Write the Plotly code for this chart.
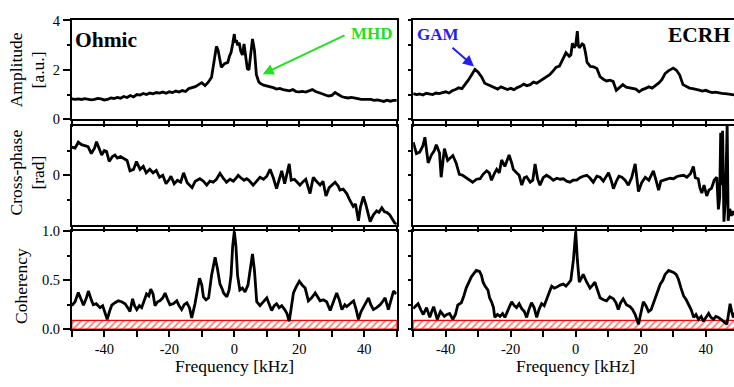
import plotly.graph_objects as go
from plotly.subplots import make_subplots

# ---------------- data ----------------
amp_ohm_f = [-50,-49,-48,-47,-46,-45,-44,-43,-42,-41,-40,-39,-38,-37,-36,-35,-34,-33,-32,-31,-30,-29,-28,-27,-26,-25,-24,-23,-22,-21,-20,-19,-18,-17,-16,-15,-14,-13,-12,-11,-10,-9,-8,-7,-6,-5.5,-5,-4.5,-4,-3,-2,-1.5,-1,-0.5,0,0.3,0.7,1,1.5,2,2.5,3,3.5,4,4.5,5,5.6,6.2,6.8,7.5,8,9,10,11,12,13,14,15,16,17,18,19,20,21,22,23,24,25,26,27,28,29,30,31,32,33,34,35,36,37,38,39,40,41,42,43,44,45,46,47,48,49,50]
amp_ohm = [0.82,0.80,0.82,0.80,0.83,0.81,0.78,0.80,0.84,0.82,0.78,0.80,0.86,0.84,0.88,0.85,0.92,0.88,0.96,0.90,1.00,0.98,1.04,1.00,1.06,1.03,1.08,1.06,1.10,1.05,1.11,1.08,1.14,1.10,1.16,1.12,1.24,1.28,1.32,1.40,1.48,1.36,1.50,1.70,2.50,2.95,2.80,2.35,2.10,2.25,2.30,2.55,2.70,3.05,3.45,3.10,3.20,3.00,3.10,2.75,2.60,3.05,2.60,2.05,2.00,2.60,3.25,2.80,1.80,1.52,1.45,1.38,1.35,1.32,1.28,1.22,1.25,1.20,1.18,1.15,1.20,1.12,1.11,1.13,1.10,1.16,1.20,1.12,1.06,1.03,0.98,0.94,0.96,1.08,1.00,0.92,0.88,0.86,0.88,0.84,0.83,0.80,0.80,0.78,0.80,0.76,0.78,0.75,0.72,0.77,0.73,0.76,0.76]

amp_ecrh_f = [-50,-49,-48,-47,-46,-45,-44,-43,-42,-41,-40,-39,-38,-37,-36,-35,-34,-33,-32,-31,-30,-29,-28,-27,-26,-25,-24,-23,-22,-21,-20,-19,-18,-17,-16,-15,-14,-13,-12,-11,-10,-9,-8,-7,-6,-5,-4,-3,-2,-1.5,-1,-0.5,0,0.5,0.8,1.1,2,2.5,3,3.5,4.5,5.5,6.5,7.5,8.5,9.5,10.5,11.5,12.5,13.5,14.5,15.5,16.5,17.5,18.5,19.5,20.5,21.5,22.5,23.5,24.5,25.5,26.5,27.5,28.5,29.5,30,31,32,33,34,35,36,37,38,39,40,41,42,43,44,45,46,47,48,48.5,49,50]
amp_ecrh = [1.04,1.00,1.02,0.98,1.05,1.02,1.00,1.06,1.04,1.08,1.11,1.06,1.15,1.20,1.27,1.24,1.40,1.59,1.80,2.02,1.90,1.72,1.46,1.40,1.32,1.27,1.22,1.31,1.24,1.20,1.25,1.20,1.28,1.33,1.42,1.36,1.40,1.50,1.46,1.55,1.62,1.72,1.80,1.95,2.11,2.15,2.40,2.69,2.55,2.60,3.08,2.90,3.00,3.57,3.00,2.89,3.05,3.00,2.70,2.30,2.14,2.12,2.05,1.72,1.62,1.55,1.58,1.53,1.17,1.30,1.40,1.30,1.28,1.24,1.22,1.11,1.20,1.25,1.31,1.26,1.36,1.46,1.60,1.85,1.96,2.02,2.07,1.98,1.79,1.40,1.32,1.26,1.24,1.22,1.18,1.14,1.17,1.12,1.08,1.10,1.06,1.05,1.04,1.02,1.00,0.98,0.98,0.96]

ph_ohm_f = [-50,-49,-48,-47,-46,-45,-44,-43,-42.4,-41.5,-40.8,-40,-39.3,-38.5,-37.5,-36.7,-36,-35,-34.2,-33,-32.1,-31,-30.1,-29.5,-29,-28,-27.1,-26,-25,-24,-23,-22,-21,-20,-19.5,-18.5,-17.5,-16.5,-15.6,-14.5,-13,-12,-10.6,-9.5,-8.5,-7.5,-6.5,-5.5,-4.4,-3.5,-2.4,-1.3,-0.3,0.5,1.2,2,3,3.8,4.5,5.8,7,7.9,9,10,11,12,13,14,14.6,15.5,16.9,17.5,18.5,19.5,20.2,21,22,23.3,24.3,25,26.4,27.3,28.2,29.2,30,31,32,32.5,33.5,34.6,35.5,36.6,37.3,38.2,38.8,39.7,40.5,41.3,41.8,42.8,43.8,44.5,45.4,46.2,46.9,47.8,48.6,49.4,50]
ph_ohm = [0.57,0.55,0.67,0.62,0.60,0.58,0.44,0.55,0.68,0.52,0.41,0.50,0.48,0.28,0.38,0.41,0.35,0.38,0.35,0.30,0.09,0.12,0.28,0.20,0.12,0.18,0.05,0.12,0.05,0.10,-0.04,0.00,-0.17,-0.08,-0.02,-0.17,-0.10,-0.14,0.05,-0.15,-0.25,-0.12,-0.07,-0.12,-0.20,-0.12,-0.14,-0.08,0.04,-0.05,-0.14,-0.08,-0.12,-0.06,0.00,-0.05,-0.10,-0.07,-0.10,-0.20,-0.12,-0.04,-0.08,-0.02,0.12,-0.05,-0.27,-0.05,0.09,-0.17,0.23,-0.10,-0.08,-0.15,-0.20,-0.14,-0.08,-0.37,-0.04,-0.10,-0.20,-0.12,-0.42,-0.25,-0.20,-0.14,-0.22,-0.30,-0.28,-0.37,-0.50,-0.63,-0.58,-0.92,-0.65,-0.43,-0.60,-0.85,-0.94,-0.80,-0.72,-0.75,-0.66,-0.74,-0.75,-0.80,-0.90,-0.97,-0.99]

ph_ecrh_f = [-50,-49.5,-49,-48,-47,-46.4,-45.4,-44.4,-43.5,-42.9,-41.9,-41.4,-40.4,-39.4,-38.5,-37.8,-36.8,-35.8,-34.8,-33.8,-32.5,-31.7,-30.5,-29.4,-28.5,-27.4,-26.6,-25.9,-25,-24.3,-23.5,-22.8,-21.8,-20.5,-19.7,-19.2,-18.2,-17.4,-16.6,-15.8,-15.1,-14,-13.2,-12.5,-11.7,-11,-10,-9,-8,-6.9,-5.8,-4.8,-3.8,-2.8,-1.8,-0.8,0.3,1.3,2.3,3.4,4.3,5.4,6.5,7.5,8.5,9.3,10.1,10.9,11.6,12.5,13.3,14.2,15.2,16.2,17.2,18.3,19.3,20.3,21.4,22.5,23.9,24.7,25.5,26.2,27,28,29,30.1,31,32,33.2,34.2,35.3,36.2,36.8,37.7,38.2,38.8,39.5,40.3,41,41.8,42.6,43.4,43.9,44.3,44.6,44.9,45.2,45.6,46.1,46.6,46.9,47.4,47.9,48.4,49,50]
ph_ecrh = [0.67,0.55,0.44,0.47,0.60,0.77,0.25,0.41,0.50,0.62,0.45,-0.04,0.54,0.30,0.35,0.40,0.25,0.02,0.00,-0.04,-0.10,-0.14,-0.08,-0.07,0.02,0.09,0.05,-0.10,0.04,0.12,0.05,0.31,0.18,0.41,0.25,0.12,0.05,0.00,-0.20,-0.05,-0.03,-0.14,-0.10,0.23,-0.08,-0.20,-0.05,0.00,-0.04,-0.10,-0.06,-0.08,-0.07,-0.12,-0.14,-0.10,-0.10,-0.05,-0.02,0.00,-0.05,-0.14,-0.02,-0.04,-0.12,-0.03,0.05,-0.10,-0.27,-0.12,-0.02,-0.04,-0.10,-0.20,-0.05,0.23,-0.33,-0.15,-0.04,-0.10,0.09,-0.10,-0.30,-0.12,-0.10,-0.08,-0.06,-0.07,-0.03,-0.01,0.00,-0.04,0.03,0.18,-0.05,-0.07,-0.25,-0.36,-0.20,-0.42,-0.30,-0.26,-0.10,-0.04,-0.69,-0.45,0.86,-0.20,0.90,-0.94,-0.46,1.05,-0.92,-0.68,-0.82,-0.73,-0.80,-0.78]

coh_ohm_f = [-50,-49,-48,-47,-46.4,-45.5,-44.9,-44,-43.4,-42.5,-41.3,-40.5,-39.8,-39.1,-38.4,-37.7,-36.7,-35.7,-34.7,-33.6,-32.8,-32.1,-31.3,-30.7,-30,-29.2,-28.5,-27.7,-27,-26.3,-25.7,-25,-24.4,-23.6,-22.9,-22,-21.3,-20.5,-19.8,-18.8,-17.7,-17,-16.2,-15.4,-14.6,-13.8,-13.1,-12.1,-11.4,-10.7,-10,-9.5,-8.7,-7.9,-7,-6.3,-5.9,-5.2,-4.4,-3.6,-3.3,-2.3,-1.6,-1,-0.5,0,0.5,1,1.7,2.5,3.3,4.2,5,5.6,6.2,6.9,7.9,8.8,10,10.8,11.5,12.3,13,13.8,14.6,15.5,16.2,16.9,17.5,18.2,19,20,20.9,21.8,22.8,23.8,24.9,25.6,26.4,27.4,28.4,29.5,30.5,31.5,32.3,33.1,34,34.6,35.6,36.7,37.5,38.2,39,39.7,40.5,41.3,42,42.8,43.8,44.9,45.6,46.4,47.4,48.2,49,49.8]
coh_ohm = [0.24,0.28,0.375,0.30,0.245,0.32,0.39,0.30,0.25,0.26,0.22,0.24,0.18,0.10,0.18,0.245,0.27,0.29,0.28,0.26,0.22,0.18,0.31,0.24,0.20,0.24,0.22,0.30,0.36,0.34,0.41,0.36,0.24,0.28,0.29,0.32,0.37,0.30,0.25,0.26,0.29,0.24,0.20,0.25,0.27,0.22,0.115,0.26,0.40,0.52,0.45,0.33,0.30,0.32,0.55,0.70,0.735,0.62,0.46,0.40,0.37,0.33,0.40,0.55,0.85,1.00,0.85,0.55,0.40,0.42,0.38,0.45,0.65,0.77,0.60,0.28,0.24,0.27,0.32,0.25,0.19,0.24,0.26,0.22,0.24,0.20,0.16,0.08,0.20,0.37,0.43,0.49,0.45,0.42,0.29,0.32,0.37,0.33,0.29,0.30,0.28,0.19,0.28,0.37,0.30,0.20,0.25,0.23,0.26,0.29,0.20,0.10,0.18,0.22,0.26,0.32,0.25,0.20,0.22,0.25,0.28,0.32,0.20,0.30,0.39,0.36]

coh_ecrh_f = [-50,-49.2,-48.5,-47.7,-46.9,-45.9,-44.9,-44.3,-43.7,-42.6,-41.6,-40.4,-39.6,-38.8,-37.8,-37,-36.3,-35.2,-34.5,-33.7,-32.9,-32.1,-31.3,-30.6,-29.6,-29,-28.5,-27.9,-27,-26.5,-25.9,-25.3,-24.9,-24.1,-23.3,-22.5,-21.8,-21,-20.2,-19.7,-18.9,-18.2,-17.4,-16.6,-15.8,-15.1,-14.4,-13.6,-12.8,-12,-11.3,-10.5,-9.7,-8.9,-8.1,-7.4,-6.6,-5.8,-4.8,-3.8,-3,-2.2,-1.5,-0.7,0,0.5,1.1,1.7,2.3,3.4,4.4,5.2,5.9,6.7,7.5,8.5,9.5,10.5,11.6,12.4,13.1,13.8,14.6,15.6,16.7,17.5,18.3,19.3,20,20.8,21.6,22.4,23.2,23.9,25,26,26.8,27.5,28.6,29.4,30.1,30.9,31.6,32.4,33.2,34,34.7,35.5,36.3,37,37.8,38.6,39.3,40.1,40.9,41.6,42.4,43.1,43.9,44.7,45.5,46.5,47,47.5,48,48.5,49.2,50]
coh_ecrh = [0.21,0.24,0.26,0.20,0.15,0.22,0.12,0.18,0.23,0.10,0.18,0.13,0.15,0.16,0.10,0.15,0.245,0.27,0.33,0.42,0.48,0.535,0.57,0.60,0.59,0.55,0.48,0.44,0.40,0.32,0.28,0.22,0.12,0.15,0.13,0.16,0.12,0.18,0.25,0.28,0.24,0.22,0.26,0.21,0.18,0.12,0.20,0.27,0.22,0.12,0.20,0.26,0.24,0.32,0.38,0.44,0.42,0.43,0.45,0.46,0.44,0.47,0.50,0.71,1.00,0.71,0.48,0.52,0.56,0.48,0.42,0.45,0.48,0.40,0.32,0.30,0.29,0.33,0.31,0.27,0.20,0.27,0.31,0.25,0.23,0.20,0.15,0.05,0.15,0.28,0.24,0.18,0.20,0.27,0.36,0.46,0.50,0.56,0.60,0.59,0.58,0.56,0.51,0.42,0.34,0.30,0.25,0.20,0.12,0.15,0.10,0.13,0.08,0.12,0.16,0.12,0.10,0.13,0.12,0.10,0.08,0.05,0.15,0.26,0.18,0.12,0.18,0.20]

sig_level = 0.09
freq_ticks = [-50,-40,-30,-20,-10,0,10,20,30,40,50]
freq_labels = ["","-40","","-20","","0","","20","","40",""]

# ---------------- figure ----------------
W, H = 734, 387
FONT = "Liberation Serif"

fig = make_subplots(rows=3, cols=2)

def px_x(p): return p / W
def px_y(p): return 1 - p / H

xdom_l = [px_x(71.8), px_x(396.8)]
xdom_r = [px_x(413.2), 1.0]
ydoms = [[px_y(116), px_y(13)], [px_y(226), px_y(123)], [px_y(335), px_y(233)]]

series = [
    (1, 1, amp_ohm_f, amp_ohm), (1, 2, amp_ecrh_f, amp_ecrh),
    (2, 1, ph_ohm_f, ph_ohm), (2, 2, ph_ecrh_f, ph_ecrh),
    (3, 1, coh_ohm_f, coh_ohm), (3, 2, coh_ecrh_f, coh_ecrh),
]

# significance hatch in coherency panels
for c in (1, 2):
    fig.add_trace(go.Scatter(
        x=[-50, 50, 50, -50, -50], y=[0, 0, sig_level, sig_level, 0],
        mode="lines", fill="toself", line=dict(color="red", width=1.2),
        fillcolor="white",
        fillpattern=dict(shape="/", fgcolor="red", bgcolor="white", size=5, solidity=0.35),
        hoverinfo="skip", showlegend=False), row=3, col=c)

for r, c, fx, fy in series:
    fig.add_trace(go.Scatter(x=fx, y=fy, mode="lines",
                             line=dict(color="black", width=2.8),
                             showlegend=False), row=r, col=c)

yranges = [[0, 4], [-1, 1], [0, 1]]
ymajor = [[0, 2, 4], [0], [0, 0.5, 1.0]]
ymajor_txt = [["0", "2", "4"], ["0"], ["0.0", "0.5", "1.0"]]
yminor = [[1, 3], [-0.5, 0.5], [0.25, 0.75]]

for r in (1, 2, 3):
    for c in (1, 2):
        idx = (r - 1) * 2 + c
        xa = "xaxis" if idx == 1 else f"xaxis{idx}"
        ya = "yaxis" if idx == 1 else f"yaxis{idx}"
        fig.layout[xa].update(
            domain=xdom_l if c == 1 else xdom_r,
            range=[-50, 50] if c == 1 else [-50, 48.7],
            showline=True, linecolor="black", linewidth=1.6, mirror=True,
            ticks="outside", ticklen=6, tickwidth=1.5, tickcolor="black",
            tickmode="array", tickvals=freq_ticks, ticktext=freq_labels,
            showticklabels=(r == 3), showgrid=False, zeroline=False,
            tickfont=dict(family=FONT, size=14.5, color="black"))
        if c == 1:
            fig.layout[ya].update(
                domain=ydoms[r - 1], range=yranges[r - 1],
                showline=True, linecolor="black", linewidth=1.6, mirror=True,
                ticks="outside", ticklen=7, tickwidth=1.5, tickcolor="black",
                tickmode="array", tickvals=ymajor[r - 1], ticktext=ymajor_txt[r - 1],
                minor=dict(tickmode="array", tickvals=yminor[r - 1], ticks="outside",
                           ticklen=3, tickwidth=1.5, tickcolor="black"),
                showgrid=False, zeroline=False,
                tickfont=dict(family=FONT, size=14.5, color="black"))
        else:
            fig.layout[ya].update(
                domain=ydoms[r - 1], range=yranges[r - 1],
                showline=True, linecolor="black", linewidth=1.6, mirror=False,
                ticks="outside", ticklen=3, tickwidth=1.5, tickcolor="black",
                tickmode="array", tickvals=sorted(ymajor[r - 1] + yminor[r - 1]),
                showticklabels=False, showgrid=False, zeroline=False)

ann = []
tf = dict(family=FONT, size=17.5, color="black")
# y-axis titles
ann.append(dict(text="Amplitude<br>[a.u.]", x=px_x(27.5), y=px_y(64.5), textangle=-90, font=tf))
ann.append(dict(text="Cross-phase<br>[rad]", x=px_x(27.5), y=px_y(172), textangle=-90, font=tf))
ann.append(dict(text="Coherency", x=px_x(21), y=px_y(290), textangle=-90, font=tf))
# x-axis titles
ann.append(dict(text="Frequency [kHz]", x=px_x(234.3), y=px_y(373), font=tf))
ann.append(dict(text="Frequency [kHz]", x=px_x(575.7), y=px_y(373), font=tf))
# labels
ann.append(dict(text="<b>Ohmic</b>", x=px_x(73), y=px_y(33), xanchor="left",
                font=dict(family=FONT, size=21.5, color="black")))
ann.append(dict(text="<b>ECRH</b>", x=px_x(732), y=px_y(28), xanchor="right",
                font=dict(family=FONT, size=21.5, color="black")))
ann.append(dict(text="<b>MHD</b>", x=px_x(371.5), y=px_y(26.5),
                font=dict(family=FONT, size=17, color="#22e022")))
ann.append(dict(text="<b>GAM</b>", x=px_x(438), y=px_y(27.5),
                font=dict(family=FONT, size=17, color="#2020f0")))
for a in ann:
    a.setdefault("xanchor", "center")
    a.update(xref="paper", yref="paper", yanchor="middle", showarrow=False)

# arrows
ann.append(dict(text="", xref="paper", yref="paper", x=px_x(262.7), y=px_y(69),
                ax=346 - 262.7, ay=29.5 - 69, axref="pixel", ayref="pixel",
                showarrow=True, arrowhead=2, arrowsize=1.1, arrowwidth=2,
                arrowcolor="#22e022", standoff=0))
ann.append(dict(text="", xref="paper", yref="paper", x=px_x(474), y=px_y(61),
                ax=451 - 474, ay=41 - 61, axref="pixel", ayref="pixel",
                showarrow=True, arrowhead=2, arrowsize=1.1, arrowwidth=2,
                arrowcolor="#2020f0", standoff=0))

fig.update_layout(
    width=W, height=H, margin=dict(l=0, r=0, t=0, b=0),
    paper_bgcolor="white", plot_bgcolor="white",
    font=dict(family=FONT, color="black"),
    annotations=ann, showlegend=False)

fig.write_html("out.html", config={"displayModeBar": False})
